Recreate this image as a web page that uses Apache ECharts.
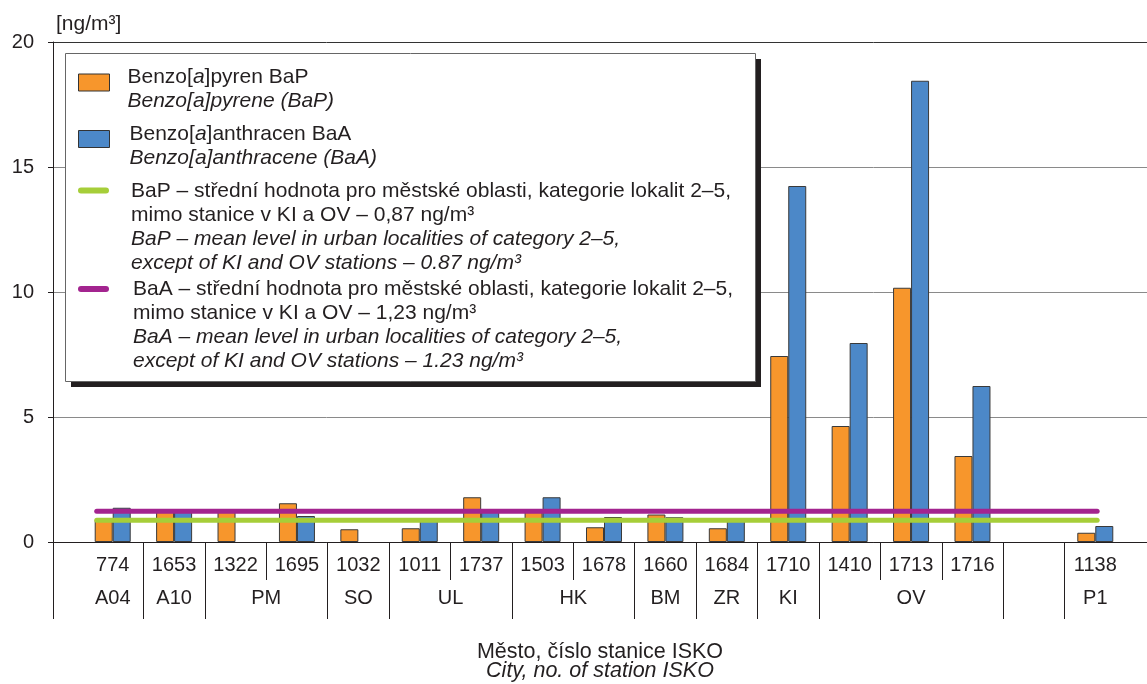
<!DOCTYPE html>
<html><head><meta charset="utf-8">
<script src="https://cdn.jsdelivr.net/npm/echarts@6/dist/echarts.min.js"></script>
<style>html,body{margin:0;padding:0;background:#fff}#c{width:1147px;height:684px}</style>
</head><body><div id="c"></div>
<script>
// ---------- data ----------
const stations = ['774','1653','1322','1695','1032','1011','1737','1503','1678','1660','1684','1710','1410','1713','1716','','1138'];
const cityNames = ['A04','A10','PM','SO','UL','HK','BM','ZR','KI','OV','','P1'];
const cityCounts = [1,1,2,1,2,2,1,1,1,3,1,1];
const bapValues = [0.88,1.22,1.2,1.55,0.51,0.55,1.79,1.22,0.59,1.1,0.55,7.44,4.64,10.17,3.44,null,0.37];
const baaValues = [1.37,1.26,null,1.04,null,0.9,1.22,1.79,1.0,0.99,0.9,14.24,7.96,18.45,6.24,null,0.64];
const bapMean = 0.87;
const baaMean = 1.23;
const meanSpan = [-0.26, 16.03];
const yMin = 0, yMax = 20, yStep = 5;
const seriesNames = ['BaP','BaA','BaP mean','BaA mean'];
const legendText = [
 '{n|Benzo[}{ni|a}{n|]pyren BaP}\n{i|Benzo[a]pyrene (BaP)}',
 '{n|Benzo[}{ni|a}{n|]anthracen BaA}\n{i|Benzo[a]anthracene (BaA)}',
 '{n|BaP – střední hodnota pro městské oblasti, kategorie lokalit 2–5,}\n{n|mimo stanice v KI a OV – 0,87 ng/m³}\n{i|BaP – mean level in urban localities of category 2–5,}\n{i|except of KI and OV stations – 0.87 ng/m³}',
 '{n|BaA – střední hodnota pro městské oblasti, kategorie lokalit 2–5,}\n{n|mimo stanice v KI a OV – 1,23 ng/m³}\n{i|BaA – mean level in urban localities of category 2–5,}\n{i|except of KI and OV stations – 1.23 ng/m³}'
];
const yAxisName = '[ng/m³]';
const xTitle = ['Město, číslo stanice ISKO','City, no. of station ISKO'];

// ---------- derived ----------
const FONT = '"Liberation Sans", Arial, Helvetica, sans-serif';
const TXT = '#231f20';
const ORANGE = '#F7962C', BLUE = '#4C88C8', GREEN = '#A6CE39', MAGENTA = '#A3248F';
const LFS = 21;
const halfStations = [];
stations.forEach(s => { halfStations.push(''); halfStations.push(s); });
halfStations.push('');
const halfCities = halfStations.map(() => '');
const groupStarts = [];
let s0 = 0;
cityNames.forEach((c, i) => { halfCities[2*s0 + cityCounts[i]] = c; groupStarts.push(2*s0); s0 += cityCounts[i]; });
const longTickSet = new Set(groupStarts.filter(v => v > 0));
const lastHalf = halfStations.length - 1;

const rich = {
  n:{fontFamily:FONT,fontSize:LFS,lineHeight:24,color:TXT},
  ni:{fontFamily:FONT,fontSize:LFS,lineHeight:24,color:TXT,fontStyle:'italic'},
  i:{fontFamily:FONT,fontSize:LFS,lineHeight:24,color:TXT,fontStyle:'italic'}
};
const pill = 'path://M3,0L28,0A3,3,0,0,1,28,6L3,6A3,3,0,0,1,3,0Z';
function mkLegend(k, top, padTop, padLeft, icon, ih, color, bw){
  return {
    show:true, orient:'vertical', left:78, top:top, padding:0, z:6,
    itemWidth:31, itemHeight:ih, itemGap:0, selectedMode:false,
    data:[{name:seriesNames[k], icon:icon, itemStyle:{color:color, borderColor:'#333', borderWidth:bw}}],
    formatter: () => legendText[k],
    textStyle:{padding:[padTop,0,0,padLeft], backgroundColor:'rgba(0,0,0,0)', rich:rich, fontFamily:FONT, fontSize:LFS, color:TXT}
  };
}

const chart = echarts.init(document.getElementById('c'), null, {renderer:'canvas'});
chart.setOption({
  animation:false,
  backgroundColor:'#fff',
  textStyle:{fontFamily:FONT, color:TXT},
  grid:[
    {left:53, right:0, top:42, bottom:142, outerBoundsMode:'none', containLabel:false},
    {left:82, right:21, top:42, bottom:142, outerBoundsMode:'none', containLabel:false}
  ],
  graphic:[
    {type:'rect', z:3, left:71, top:59, silent:true, shape:{width:690, height:328}, style:{fill:'#231f20'}},
    {type:'rect', z:4, left:65, top:53, silent:true, shape:{width:690, height:328}, style:{fill:'#fff', stroke:'#666', lineWidth:1}}
  ],
  legend:[
    mkLegend(0, 51.5, 14, 13, 'rect', 17, ORANGE, 1),
    mkLegend(1, 108, 14, 15, 'rect', 17, BLUE, 1),
    mkLegend(2, 106, 73, 17, pill, 6, GREEN, 0),
    mkLegend(3, 204.5, 73, 19, pill, 6, MAGENTA, 0)
  ],
  xAxis:[
    {gridIndex:1, type:'category', data:stations, show:false},
    {gridIndex:1, type:'category', data:halfStations, boundaryGap:false, position:'bottom',
      axisLine:{show:false},
      axisTick:{show:true, length:38, interval:(i)=> i%2===0 && i>0 && i<lastHalf, lineStyle:{color:TXT,width:1}},
      axisLabel:{interval:0, margin:13, fontSize:20, color:TXT, fontFamily:FONT},
      splitLine:{show:false}},
    {gridIndex:1, type:'category', data:halfCities, boundaryGap:false, position:'bottom',
      axisLine:{show:false},
      axisTick:{show:true, length:77, interval:(i)=> longTickSet.has(i), lineStyle:{color:TXT,width:1}},
      axisLabel:{interval:0, margin:46, fontSize:20, color:TXT, fontFamily:FONT},
      splitLine:{show:false}},
    {gridIndex:1, type:'value', min:-0.5, max:stations.length-0.5, show:false},
    {gridIndex:0, type:'value', min:0, max:1, interval:1, position:'bottom',
      axisLine:{show:true, lineStyle:{color:TXT,width:1}},
      axisTick:{show:true, customValues:[0], length:77, lineStyle:{color:TXT,width:1}},
      axisLabel:{show:false}, splitLine:{show:false},
      name:'{a|'+xTitle[0]+'}\n{b|'+xTitle[1]+'}', nameLocation:'middle', nameGap:101,
      nameTextStyle:{rich:{a:{fontFamily:FONT,fontSize:21.5,lineHeight:19,color:TXT},b:{fontFamily:FONT,fontSize:21.5,lineHeight:19,color:TXT,fontStyle:'italic'}}}}
  ],
  yAxis:[
    {gridIndex:0, type:'value', min:yMin, max:yMax, interval:yStep,
      axisLine:{show:true, lineStyle:{color:TXT,width:1}},
      axisTick:{show:true, length:5, lineStyle:{color:TXT,width:1}},
      axisLabel:{margin:19, fontSize:20, color:TXT, fontFamily:FONT},
      splitLine:{show:true, lineStyle:{color:['#333','#8a8a8a','#8a8a8a','#8a8a8a','#333'], width:1}},
      name:yAxisName, nameLocation:'end', nameGap:7,
      nameTextStyle:{align:'left', verticalAlign:'bottom', padding:[0,0,0,3], fontSize:21, color:TXT, fontFamily:FONT}},
    {gridIndex:1, type:'value', min:yMin, max:yMax, interval:yStep, show:false, splitLine:{show:false}}
  ],
  series:[
    {name:seriesNames[0], type:'bar', xAxisIndex:0, yAxisIndex:1, data:bapValues, barWidth:18, barGap:'0%', z:2,
      itemStyle:{color:ORANGE, borderColor:'#3a3a3a', borderWidth:1}},
    {name:seriesNames[1], type:'bar', xAxisIndex:0, yAxisIndex:1, data:baaValues, barWidth:18, barGap:'0%', z:2,
      itemStyle:{color:BLUE, borderColor:'#3a3a3a', borderWidth:1}},
    {name:seriesNames[2], type:'line', xAxisIndex:3, yAxisIndex:1, data:meanSpan.map(x=>[x,bapMean]), symbol:'none', z:4, silent:true,
      color:GREEN, itemStyle:{color:GREEN}, lineStyle:{color:GREEN, width:5, cap:'round'}},
    {name:seriesNames[3], type:'line', xAxisIndex:3, yAxisIndex:1, data:meanSpan.map(x=>[x,baaMean]), symbol:'none', z:4, silent:true,
      color:MAGENTA, itemStyle:{color:MAGENTA}, lineStyle:{color:MAGENTA, width:5, cap:'round'}}
  ]
});
</script></body></html>
